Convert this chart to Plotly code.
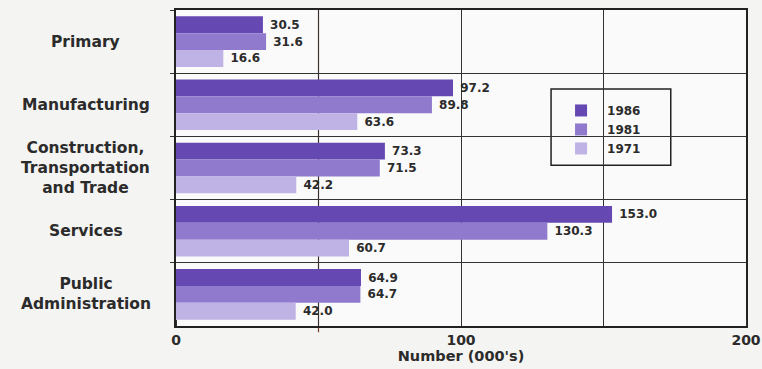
import plotly.graph_objects as go

categories = ["Primary", "Manufacturing", "Construction,<br>Transportation<br>and Trade",
              "Services", "Public<br>Administration"]
cat_keys = ["Primary", "Manufacturing", "Construction", "Services", "Public Administration"]
years = ["1986", "1981", "1971"]
v1986 = [30.5, 97.2, 73.3, 153.0, 64.9]
v1981 = [31.6, 89.8, 71.5, 130.3, 64.7]
v1971 = [16.6, 63.6, 42.2, 60.7, 42.0]
colors = ["#6548b2", "#8f7acd", "#bfb2e4"]
x_ticks = [0, 100, 200]

FONT = "DejaVu Sans"
TXT = "#2b2b2b"

fig = go.Figure()
for name, vals, col in zip(years, [v1986, v1981, v1971], colors):
    fig.add_trace(go.Bar(
        y=cat_keys, x=vals, name=name, orientation="h",
        marker=dict(color=col, line=dict(width=0)),
        texttemplate="\u00a0%{x:.1f}", textposition="outside",
        textfont=dict(family=FONT, size=12, color=TXT, weight=700),
        cliponaxis=False,
    ))

for key, label in zip(cat_keys, categories):
    fig.add_annotation(x=-0.158, xref="paper", y=key, yref="y", text=label,
                       showarrow=False, xanchor="center", align="center",
                       font=dict(family=FONT, size=15.5, color=TXT, weight=700))

fig.add_shape(type="line", xref="x", yref="paper", x0=50, x1=50, y0=-0.02, y1=1,
              line=dict(color="#7a3b2a", width=1.2), layer="below")
# legend frame
fig.add_shape(type="rect", xref="paper", yref="paper", x0=0.658, x1=0.868, y0=0.509, y1=0.75,
              line=dict(color="#222", width=1.5), fillcolor="#fafafa", layer="below")

fig.update_layout(
    width=762, height=369,
    margin=dict(l=176, r=16, t=10, b=43, autoexpand=False),
    paper_bgcolor="#f4f4f2", plot_bgcolor="#fafafa",
    barmode="group", bargap=0.2, bargroupgap=0,
    font=dict(family=FONT, color=TXT),
    legend=dict(x=0.665, y=0.728, xanchor="left", yanchor="top",
                borderwidth=0, bgcolor="rgba(0,0,0,0)",
                font=dict(family=FONT, size=12, color=TXT, weight=700),
                itemwidth=42, tracegroupgap=0),
    showlegend=True,
)
fig.update_xaxes(range=[0, 200], tickvals=x_ticks, ticktext=[str(t) for t in x_ticks],
                 showgrid=True, gridcolor="#333", gridwidth=1,
                 minor=dict(dtick=50, showgrid=True, gridcolor="#333", gridwidth=1,
                            ticks="inside", ticklen=6, tickcolor="#333"),
                 showline=True, linecolor="#222", linewidth=1.5, mirror=True,
                 ticks="", zeroline=False,
                 tickfont=dict(family=FONT, size=14, color=TXT, weight=700),
                 title=dict(text="Number (000's)", standoff=4,
                            font=dict(family=FONT, size=14.5, color=TXT, weight=700)))
fig.update_yaxes(autorange="reversed", tickson="boundaries", showgrid=True,
                 gridcolor="#333", gridwidth=1, showticklabels=False,
                 showline=True, linecolor="#222", linewidth=1.5, mirror=True,
                 ticks="outside", ticklen=4, tickcolor="#333")

fig.write_html("out.html", config={"displayModeBar": False},
               post_script="document.body.style.margin='0';document.body.style.overflow='hidden';")
